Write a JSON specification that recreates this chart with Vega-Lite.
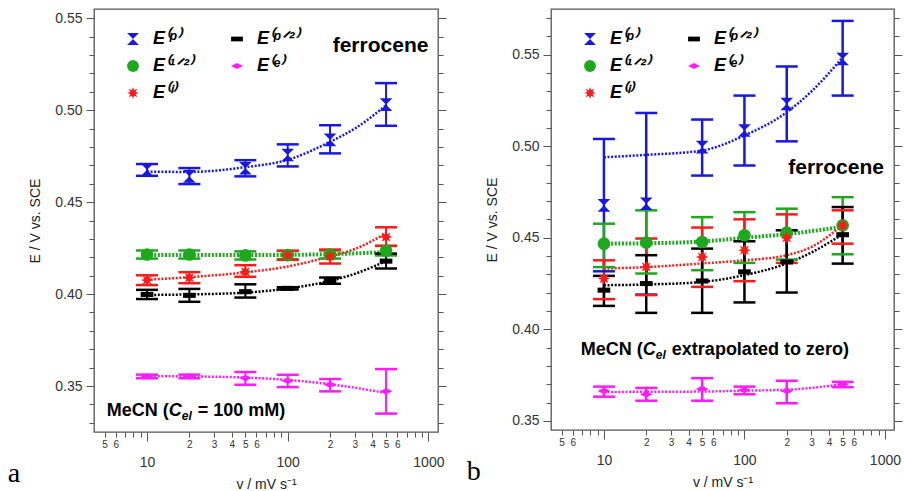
{
  "$schema": "https://vega.github.io/schema/vega-lite/v6.json",
  "padding": {"left": 7, "top": 8, "right": 0, "bottom": 0},
  "spacing": 18,
  "resolve": {"scale": {"color": "independent", "shape": "independent"}, "legend": {"color": "independent", "shape": "independent"}},
  "config": {
    "font": "Liberation Sans",
    "view": {"stroke": "#555", "strokeWidth": 1.3},
    "axis": {"domain": false, "grid": false, "tickColor": "#555", "tickWidth": 1, "labelColor": "#333", "titleColor": "#222", "labelFont": "Liberation Sans", "titleFont": "Liberation Sans", "titleFontWeight": "normal"},
    "legend": {"symbolOpacity": 1}
  },
  "datasets": {
    "one": [{"k": 1}],
    "pts_a": [
      {"series": "p", "v": 10, "E": 0.4675, "lo": 0.4643, "hi": 0.4707},
      {"series": "p", "v": 20, "E": 0.4640, "lo": 0.4598, "hi": 0.4685},
      {"series": "p", "v": 50, "E": 0.4684, "lo": 0.4640, "hi": 0.4728},
      {"series": "p", "v": 100, "E": 0.4756, "lo": 0.4694, "hi": 0.4814},
      {"series": "p", "v": 200, "E": 0.4838, "lo": 0.4765, "hi": 0.4918},
      {"series": "p", "v": 500, "E": 0.5030, "lo": 0.4915, "hi": 0.5147},
      {"series": "1/2", "v": 10, "E": 0.4215, "lo": 0.4193, "hi": 0.4237},
      {"series": "1/2", "v": 20, "E": 0.4215, "lo": 0.4193, "hi": 0.4237},
      {"series": "1/2", "v": 50, "E": 0.4210, "lo": 0.4188, "hi": 0.4232},
      {"series": "1/2", "v": 100, "E": 0.4212, "lo": 0.4190, "hi": 0.4234},
      {"series": "1/2", "v": 200, "E": 0.4215, "lo": 0.4193, "hi": 0.4237},
      {"series": "1/2", "v": 500, "E": 0.4235, "lo": 0.4210, "hi": 0.4262},
      {"series": "i", "v": 10, "E": 0.4076, "lo": 0.4049, "hi": 0.4102},
      {"series": "i", "v": 20, "E": 0.4089, "lo": 0.4059, "hi": 0.4119},
      {"series": "i", "v": 50, "E": 0.4121, "lo": 0.4094, "hi": 0.4157},
      {"series": "i", "v": 100, "E": 0.4211, "lo": 0.4186, "hi": 0.4236},
      {"series": "i", "v": 200, "E": 0.4205, "lo": 0.4166, "hi": 0.4242},
      {"series": "i", "v": 500, "E": 0.4310, "lo": 0.4262, "hi": 0.4363},
      {"series": "p/2", "v": 10, "E": 0.3998, "lo": 0.3973, "hi": 0.4023},
      {"series": "p/2", "v": 20, "E": 0.3993, "lo": 0.3958, "hi": 0.4028},
      {"series": "p/2", "v": 50, "E": 0.4013, "lo": 0.3981, "hi": 0.4053},
      {"series": "p/2", "v": 100, "E": 0.4031, "lo": 0.4025, "hi": 0.4037},
      {"series": "p/2", "v": 200, "E": 0.4073, "lo": 0.4056, "hi": 0.4090},
      {"series": "p/2", "v": 500, "E": 0.4179, "lo": 0.4139, "hi": 0.4220},
      {"series": "e", "v": 10, "E": 0.3552, "lo": 0.3542, "hi": 0.3562},
      {"series": "e", "v": 20, "E": 0.3552, "lo": 0.3542, "hi": 0.3562},
      {"series": "e", "v": 50, "E": 0.3543, "lo": 0.3507, "hi": 0.3576},
      {"series": "e", "v": 100, "E": 0.3528, "lo": 0.3494, "hi": 0.3561},
      {"series": "e", "v": 200, "E": 0.3507, "lo": 0.3471, "hi": 0.3538},
      {"series": "e", "v": 500, "E": 0.3471, "lo": 0.3350, "hi": 0.3592}
    ],
    "fit_a": [
      {"series": "p", "v": 10, "E": 0.4666}, {"series": "p", "v": 20, "E": 0.4664}, {"series": "p", "v": 50, "E": 0.4690}, {"series": "p", "v": 100, "E": 0.4730}, {"series": "p", "v": 200, "E": 0.4828}, {"series": "p", "v": 300, "E": 0.4900}, {"series": "p", "v": 500, "E": 0.5026},
      {"series": "1/2", "v": 10, "E": 0.4212}, {"series": "1/2", "v": 50, "E": 0.4212}, {"series": "1/2", "v": 100, "E": 0.4213}, {"series": "1/2", "v": 200, "E": 0.4217}, {"series": "1/2", "v": 500, "E": 0.4228},
      {"series": "i", "v": 10, "E": 0.4078}, {"series": "i", "v": 20, "E": 0.4092}, {"series": "i", "v": 50, "E": 0.4118}, {"series": "i", "v": 100, "E": 0.4150}, {"series": "i", "v": 200, "E": 0.4205}, {"series": "i", "v": 300, "E": 0.4245}, {"series": "i", "v": 500, "E": 0.4330},
      {"series": "p/2", "v": 10, "E": 0.3995}, {"series": "p/2", "v": 20, "E": 0.3998}, {"series": "p/2", "v": 50, "E": 0.4008}, {"series": "p/2", "v": 100, "E": 0.4030}, {"series": "p/2", "v": 200, "E": 0.4072}, {"series": "p/2", "v": 300, "E": 0.4110}, {"series": "p/2", "v": 500, "E": 0.4180},
      {"series": "e", "v": 10, "E": 0.3553}, {"series": "e", "v": 20, "E": 0.3552}, {"series": "e", "v": 50, "E": 0.3546}, {"series": "e", "v": 100, "E": 0.3533}, {"series": "e", "v": 200, "E": 0.3510}, {"series": "e", "v": 500, "E": 0.3462}
    ],
    "pts_b": [
      {"series": "p", "v": 10, "E": 0.4677, "lo": 0.4317, "hi": 0.5040},
      {"series": "p", "v": 20, "E": 0.4686, "lo": 0.4190, "hi": 0.5182},
      {"series": "p", "v": 50, "E": 0.4995, "lo": 0.4840, "hi": 0.5146},
      {"series": "p", "v": 100, "E": 0.5086, "lo": 0.4895, "hi": 0.5277},
      {"series": "p", "v": 200, "E": 0.5231, "lo": 0.5027, "hi": 0.5436},
      {"series": "p", "v": 500, "E": 0.5477, "lo": 0.5277, "hi": 0.5685},
      {"series": "1/2", "v": 10, "E": 0.4468, "lo": 0.4340, "hi": 0.4577},
      {"series": "1/2", "v": 20, "E": 0.4474, "lo": 0.4305, "hi": 0.4650},
      {"series": "1/2", "v": 50, "E": 0.4477, "lo": 0.4323, "hi": 0.4613},
      {"series": "1/2", "v": 100, "E": 0.4514, "lo": 0.4363, "hi": 0.4640},
      {"series": "1/2", "v": 200, "E": 0.4528, "lo": 0.4381, "hi": 0.4659},
      {"series": "1/2", "v": 500, "E": 0.4568, "lo": 0.4410, "hi": 0.4722},
      {"series": "i", "v": 10, "E": 0.4277, "lo": 0.4165, "hi": 0.4377},
      {"series": "i", "v": 20, "E": 0.4341, "lo": 0.4187, "hi": 0.4496},
      {"series": "i", "v": 50, "E": 0.4395, "lo": 0.4232, "hi": 0.4556},
      {"series": "i", "v": 100, "E": 0.4432, "lo": 0.4263, "hi": 0.4601},
      {"series": "i", "v": 200, "E": 0.4500, "lo": 0.4363, "hi": 0.4628},
      {"series": "i", "v": 500, "E": 0.4568, "lo": 0.4468, "hi": 0.4650},
      {"series": "p/2", "v": 10, "E": 0.4214, "lo": 0.4128, "hi": 0.4292},
      {"series": "p/2", "v": 20, "E": 0.4250, "lo": 0.4090, "hi": 0.4405},
      {"series": "p/2", "v": 50, "E": 0.4264, "lo": 0.4090, "hi": 0.4441},
      {"series": "p/2", "v": 100, "E": 0.4314, "lo": 0.4147, "hi": 0.4481},
      {"series": "p/2", "v": 200, "E": 0.4368, "lo": 0.4201, "hi": 0.4541},
      {"series": "p/2", "v": 500, "E": 0.4517, "lo": 0.4359, "hi": 0.4668},
      {"series": "e", "v": 10, "E": 0.3663, "lo": 0.3632, "hi": 0.3687},
      {"series": "e", "v": 20, "E": 0.3645, "lo": 0.3610, "hi": 0.3680},
      {"series": "e", "v": 50, "E": 0.3674, "lo": 0.3610, "hi": 0.3733},
      {"series": "e", "v": 100, "E": 0.3669, "lo": 0.3645, "hi": 0.3687},
      {"series": "e", "v": 200, "E": 0.3663, "lo": 0.3596, "hi": 0.3719},
      {"series": "e", "v": 500, "E": 0.3700, "lo": 0.3684, "hi": 0.3713}
    ],
    "fit_b": [
      {"series": "p", "v": 10, "E": 0.4940}, {"series": "p", "v": 20, "E": 0.4953}, {"series": "p", "v": 50, "E": 0.4977}, {"series": "p", "v": 100, "E": 0.5059}, {"series": "p", "v": 200, "E": 0.5186}, {"series": "p", "v": 300, "E": 0.5300}, {"series": "p", "v": 500, "E": 0.5485},
      {"series": "1/2", "v": 10, "E": 0.4468}, {"series": "1/2", "v": 20, "E": 0.4470}, {"series": "1/2", "v": 50, "E": 0.4480}, {"series": "1/2", "v": 100, "E": 0.4500}, {"series": "1/2", "v": 200, "E": 0.4520}, {"series": "1/2", "v": 500, "E": 0.4560},
      {"series": "i", "v": 10, "E": 0.4332}, {"series": "i", "v": 20, "E": 0.4340}, {"series": "i", "v": 50, "E": 0.4360}, {"series": "i", "v": 100, "E": 0.4377}, {"series": "i", "v": 200, "E": 0.4405}, {"series": "i", "v": 300, "E": 0.4450}, {"series": "i", "v": 500, "E": 0.4570},
      {"series": "p/2", "v": 10, "E": 0.4241}, {"series": "p/2", "v": 20, "E": 0.4245}, {"series": "p/2", "v": 50, "E": 0.4259}, {"series": "p/2", "v": 100, "E": 0.4296}, {"series": "p/2", "v": 200, "E": 0.4360}, {"series": "p/2", "v": 300, "E": 0.4420}, {"series": "p/2", "v": 500, "E": 0.4520},
      {"series": "e", "v": 10, "E": 0.3658}, {"series": "e", "v": 50, "E": 0.3660}, {"series": "e", "v": 100, "E": 0.3665}, {"series": "e", "v": 200, "E": 0.3670}, {"series": "e", "v": 500, "E": 0.3700}
    ]
  },
  "hconcat": [
    {
      "width": 344,
      "height": 423,
      "title": {"text": "a", "orient": "bottom", "anchor": "start", "frame": "bounds", "font": "Liberation Serif", "fontSize": 28, "fontWeight": "normal", "color": "#000", "dx": -21, "offset": -31},
      "resolve": {"axis": {"x": "independent", "y": "independent"}, "legend": {"color": "independent", "shape": "independent"}},
      "layer": [
        {
          "data": {"name": "fit_a"},
          "transform": [{"filter": "datum.series != '1/2'"}],
          "mark": {"type": "line", "strokeDash": [2, 1.6], "strokeWidth": 2.5, "interpolate": "monotone"},
          "encoding": {
            "x": {"field": "v", "type": "quantitative", "scale": {"type": "log", "domain": [4.2, 1170], "nice": false},
              "axis": {"orient": "bottom", "title": "v  /  mV s\u207b\u00b9", "titleFontSize": 14, "titlePadding": 8,
                "values": [5,6,7,8,9,10,20,30,40,50,60,70,80,90,100,200,300,400,500,600,700,800,900,1000],
                "labelExpr": "datum.value == 10 || datum.value == 100 || datum.value == 1000 ? ['', '' + datum.value] : datum.value < 10 ? (datum.value <= 6 ? '' + datum.value : '') : datum.value < 100 ? (datum.value <= 60 ? '' + (datum.value / 10) : '') : (datum.value <= 600 ? '' + (datum.value / 100) : '')",
                "labelOverlap": false, "labelFlush": false, "labelBound": false, "labelPadding": 2, "labelLineHeight": 12,
                "labelFontSize": {"condition": {"test": "datum.value == 10 || datum.value == 100 || datum.value == 1000", "value": 14}, "value": 10},
                "tickSize": {"condition": {"test": "datum.value == 10 || datum.value == 100 || datum.value == 1000", "value": 9}, "value": 5}}},
            "y": {"field": "E", "type": "quantitative", "scale": {"domain": [0.325, 0.555], "nice": false, "zero": false},
              "axis": {"orient": "right", "title": null, "labels": false, "values": [0.33,0.34,0.35,0.36,0.37,0.38,0.39,0.40,0.41,0.42,0.43,0.44,0.45,0.46,0.47,0.48,0.49,0.50,0.51,0.52,0.53,0.54,0.55],
                "tickSize": {"condition": {"test": "round(datum.value*100) % 5 == 0", "value": 8}, "value": 5}}},
            "color": {"field": "series", "type": "nominal", "scale": {"domain": ["p", "1/2", "i", "p/2", "e"], "range": ["#1818e0", "#1ea81e", "#ff1a1a", "#000000", "#ff1aff"]}, "legend": null}
          }
        },
        {
          "data": {"name": "fit_a"},
          "transform": [{"filter": "datum.series == '1/2'"}],
          "mark": {"type": "line", "strokeDash": [2, 1.6], "strokeWidth": 4, "interpolate": "monotone"},
          "encoding": {
            "x": {"field": "v", "type": "quantitative", "axis": null},
            "y": {"field": "E", "type": "quantitative", "axis": null},
            "color": {"field": "series", "type": "nominal", "legend": null}
          }
        },
        {
          "data": {"name": "pts_a"},
          "mark": {"type": "rule", "strokeWidth": 2},
          "encoding": {
            "x": {"field": "v", "type": "quantitative", "axis": null},
            "y": {"field": "lo", "type": "quantitative", "axis": null},
            "y2": {"field": "hi"},
            "color": {"field": "series", "type": "nominal", "legend": null}
          }
        },
        {
          "data": {"name": "pts_a"},
          "transform": [{"fold": ["lo", "hi"], "as": ["which", "cap"]}],
          "mark": {"type": "tick", "orient": "horizontal", "size": 22, "thickness": 2.5, "opacity": 1},
          "encoding": {
            "x": {"field": "v", "type": "quantitative", "axis": null},
            "y": {"field": "cap", "type": "quantitative", "axis": null},
            "color": {"field": "series", "type": "nominal", "legend": null}
          }
        },
        {
          "data": {"name": "pts_a"},
          "mark": {"type": "point", "filled": true, "opacity": 1, "size": 160},
          "encoding": {
            "x": {"field": "v", "type": "quantitative", "axis": null},
            "y": {"field": "E", "type": "quantitative",
              "axis": {"orient": "left", "title": "E  /  V vs. SCE", "titleFontSize": 14, "titlePadding": 12, "labelFontSize": 14, "labelPadding": 4,
                "values": [0.33,0.34,0.35,0.36,0.37,0.38,0.39,0.40,0.41,0.42,0.43,0.44,0.45,0.46,0.47,0.48,0.49,0.50,0.51,0.52,0.53,0.54,0.55],
                "format": ".2f", "labelExpr": "round(datum.value*100) % 5 == 0 ? datum.label : ''",
                "tickSize": {"condition": {"test": "round(datum.value*100) % 5 == 0", "value": 8}, "value": 5}}},
            "color": {"field": "series", "type": "nominal",
              "legend": {"title": null, "orient": "top-left", "columns": 2, "offset": 21, "padding": 0, "symbolOffset": 9, "labelOffset": 11, "columnPadding": 26, "rowPadding": 9, "symbolSize": 140, "symbolStrokeWidth": 0, "labelFontSize": 18, "labelFontWeight": "bold", "labelFontStyle": "italic", "labelColor": "#000",
                "labelExpr": "datum.label == 'p' ? 'E\u207d\u1d56\u207e' : datum.label == 'p/2' ? 'E\u207d\u1d56\u141f\u00b2\u207e' : datum.label == '1/2' ? 'E\u207d\u00b9\u141f\u00b2\u207e' : datum.label == 'e' ? 'E\u207d\u1d49\u207e' : 'E\u207d\u2071\u207e'"}},
            "shape": {"field": "series", "type": "nominal",
              "scale": {"domain": ["p", "1/2", "i", "p/2", "e"], "range": ["M-1,-1L1,-1L-1,1L1,1Z", "circle", "M1,0L0.45,0.19L0.707,0.707L0.19,0.45L0,1L-0.19,0.45L-0.707,0.707L-0.45,0.19L-1,0L-0.45,-0.19L-0.707,-0.707L-0.19,-0.45L0,-1L0.19,-0.45L0.707,-0.707L0.45,-0.19Z", "M-1,-0.4L1,-0.4L1,0.4L-1,0.4Z", "M-1,0L0,-0.5L1,0L0,0.5Z"]},
              "legend": {"title": null, "orient": "top-left", "columns": 2, "offset": 21, "padding": 0, "symbolOffset": 9, "labelOffset": 11, "columnPadding": 26, "rowPadding": 9, "symbolSize": 140, "symbolStrokeWidth": 0, "labelFontSize": 18, "labelFontWeight": "bold", "labelFontStyle": "italic", "labelColor": "#000",
                "labelExpr": "datum.label == 'p' ? 'E\u207d\u1d56\u207e' : datum.label == 'p/2' ? 'E\u207d\u1d56\u141f\u00b2\u207e' : datum.label == '1/2' ? 'E\u207d\u00b9\u141f\u00b2\u207e' : datum.label == 'e' ? 'E\u207d\u1d49\u207e' : 'E\u207d\u2071\u207e'"}}
          }
        },
        {
          "data": {"name": "one"},
          "mark": {"type": "text", "text": "ferrocene", "fontSize": 21, "fontWeight": "bold", "align": "right", "baseline": "alphabetic", "color": "#000"},
          "encoding": {"x": {"datum": 1000, "type": "quantitative", "axis": null}, "y": {"datum": 0.5315, "type": "quantitative", "axis": null}}
        },
        {
          "data": {"name": "one"},
          "mark": {"type": "text", "text": "MeCN (", "fontSize": 18, "fontWeight": "bold", "align": "left", "baseline": "alphabetic", "color": "#000"},
          "encoding": {"x": {"datum": 5.18, "type": "quantitative", "axis": null}, "y": {"datum": 0.3339, "type": "quantitative", "axis": null}}
        },
        {
          "data": {"name": "one"},
          "mark": {"type": "text", "text": "C", "fontSize": 18, "fontWeight": "bold", "fontStyle": "italic", "align": "left", "baseline": "alphabetic", "color": "#000", "dx": 62},
          "encoding": {"x": {"datum": 5.18, "type": "quantitative", "axis": null}, "y": {"datum": 0.3339, "type": "quantitative", "axis": null}}
        },
        {
          "data": {"name": "one"},
          "mark": {"type": "text", "text": "el", "fontSize": 12, "fontWeight": "bold", "fontStyle": "italic", "align": "left", "baseline": "alphabetic", "color": "#000", "dx": 75, "dy": 4},
          "encoding": {"x": {"datum": 5.18, "type": "quantitative", "axis": null}, "y": {"datum": 0.3339, "type": "quantitative", "axis": null}}
        },
        {
          "data": {"name": "one"},
          "mark": {"type": "text", "text": "= 100 mM)", "fontSize": 18, "fontWeight": "bold", "align": "left", "baseline": "alphabetic", "color": "#000", "dx": 91},
          "encoding": {"x": {"datum": 5.18, "type": "quantitative", "axis": null}, "y": {"datum": 0.3339, "type": "quantitative", "axis": null}}
        }
      ]
    },
    {
      "width": 343,
      "height": 421,
      "title": {"text": "b", "orient": "bottom", "anchor": "start", "frame": "bounds", "font": "Liberation Serif", "fontSize": 28, "fontWeight": "normal", "color": "#000", "dx": -19, "offset": -31},
      "resolve": {"axis": {"x": "independent", "y": "independent"}, "legend": {"color": "independent", "shape": "independent"}},
      "layer": [
        {
          "data": {"name": "fit_b"},
          "transform": [{"filter": "datum.series != '1/2'"}],
          "mark": {"type": "line", "strokeDash": [2, 1.6], "strokeWidth": 2.5, "interpolate": "monotone"},
          "encoding": {
            "x": {"field": "v", "type": "quantitative", "scale": {"type": "log", "domain": [4.2, 1160], "nice": false},
              "axis": {"orient": "bottom", "title": "v  /  mV s\u207b\u00b9", "titleFontSize": 14, "titlePadding": 8,
                "values": [5,6,7,8,9,10,20,30,40,50,60,70,80,90,100,200,300,400,500,600,700,800,900,1000],
                "labelExpr": "datum.value == 10 || datum.value == 100 || datum.value == 1000 ? ['', '' + datum.value] : datum.value < 10 ? (datum.value <= 6 ? '' + datum.value : '') : datum.value < 100 ? (datum.value <= 60 ? '' + (datum.value / 10) : '') : (datum.value <= 600 ? '' + (datum.value / 100) : '')",
                "labelOverlap": false, "labelFlush": false, "labelBound": false, "labelPadding": 2, "labelLineHeight": 12,
                "labelFontSize": {"condition": {"test": "datum.value == 10 || datum.value == 100 || datum.value == 1000", "value": 14}, "value": 10},
                "tickSize": {"condition": {"test": "datum.value == 10 || datum.value == 100 || datum.value == 1000", "value": 9}, "value": 5}}},
            "y": {"field": "E", "type": "quantitative", "scale": {"domain": [0.345, 0.575], "nice": false, "zero": false},
              "axis": {"orient": "right", "title": null, "labels": false, "values": [0.35,0.36,0.37,0.38,0.39,0.40,0.41,0.42,0.43,0.44,0.45,0.46,0.47,0.48,0.49,0.50,0.51,0.52,0.53,0.54,0.55,0.56,0.57],
                "tickSize": {"condition": {"test": "round(datum.value*100) % 5 == 0", "value": 8}, "value": 5}}},
            "color": {"field": "series", "type": "nominal", "scale": {"domain": ["p", "1/2", "i", "p/2", "e"], "range": ["#1818e0", "#1ea81e", "#ff1a1a", "#000000", "#ff1aff"]}, "legend": null}
          }
        },
        {
          "data": {"name": "fit_b"},
          "transform": [{"filter": "datum.series == '1/2'"}],
          "mark": {"type": "line", "strokeDash": [2, 1.6], "strokeWidth": 4, "interpolate": "monotone"},
          "encoding": {
            "x": {"field": "v", "type": "quantitative", "axis": null},
            "y": {"field": "E", "type": "quantitative", "axis": null},
            "color": {"field": "series", "type": "nominal", "legend": null}
          }
        },
        {
          "data": {"name": "pts_b"},
          "mark": {"type": "rule", "strokeWidth": 2.5},
          "encoding": {
            "x": {"field": "v", "type": "quantitative", "axis": null},
            "y": {"field": "lo", "type": "quantitative", "axis": null},
            "y2": {"field": "hi"},
            "color": {"field": "series", "type": "nominal", "legend": null}
          }
        },
        {
          "data": {"name": "pts_b"},
          "transform": [{"fold": ["lo", "hi"], "as": ["which", "cap"]}],
          "mark": {"type": "tick", "orient": "horizontal", "size": 22, "thickness": 2.5, "opacity": 1},
          "encoding": {
            "x": {"field": "v", "type": "quantitative", "axis": null},
            "y": {"field": "cap", "type": "quantitative", "axis": null},
            "color": {"field": "series", "type": "nominal", "legend": null}
          }
        },
        {
          "data": {"name": "pts_b"},
          "mark": {"type": "point", "filled": true, "opacity": 1, "size": 160},
          "encoding": {
            "x": {"field": "v", "type": "quantitative", "axis": null},
            "y": {"field": "E", "type": "quantitative",
              "axis": {"orient": "left", "title": "E  /  V vs. SCE", "titleFontSize": 14, "titlePadding": 12, "labelFontSize": 14, "labelPadding": 4,
                "values": [0.35,0.36,0.37,0.38,0.39,0.40,0.41,0.42,0.43,0.44,0.45,0.46,0.47,0.48,0.49,0.50,0.51,0.52,0.53,0.54,0.55,0.56,0.57],
                "format": ".2f", "labelExpr": "round(datum.value*100) % 5 == 0 ? datum.label : ''",
                "tickSize": {"condition": {"test": "round(datum.value*100) % 5 == 0", "value": 8}, "value": 5}}},
            "color": {"field": "series", "type": "nominal",
              "legend": {"title": null, "orient": "top-left", "columns": 2, "offset": 21, "padding": 0, "symbolOffset": 9, "labelOffset": 11, "columnPadding": 26, "rowPadding": 9, "symbolSize": 140, "symbolStrokeWidth": 0, "labelFontSize": 18, "labelFontWeight": "bold", "labelFontStyle": "italic", "labelColor": "#000",
                "labelExpr": "datum.label == 'p' ? 'E\u207d\u1d56\u207e' : datum.label == 'p/2' ? 'E\u207d\u1d56\u141f\u00b2\u207e' : datum.label == '1/2' ? 'E\u207d\u00b9\u141f\u00b2\u207e' : datum.label == 'e' ? 'E\u207d\u1d49\u207e' : 'E\u207d\u2071\u207e'"}},
            "shape": {"field": "series", "type": "nominal",
              "scale": {"domain": ["p", "1/2", "i", "p/2", "e"], "range": ["M-1,-1L1,-1L-1,1L1,1Z", "circle", "M1,0L0.45,0.19L0.707,0.707L0.19,0.45L0,1L-0.19,0.45L-0.707,0.707L-0.45,0.19L-1,0L-0.45,-0.19L-0.707,-0.707L-0.19,-0.45L0,-1L0.19,-0.45L0.707,-0.707L0.45,-0.19Z", "M-1,-0.4L1,-0.4L1,0.4L-1,0.4Z", "M-1,0L0,-0.5L1,0L0,0.5Z"]},
              "legend": {"title": null, "orient": "top-left", "columns": 2, "offset": 21, "padding": 0, "symbolOffset": 9, "labelOffset": 11, "columnPadding": 26, "rowPadding": 9, "symbolSize": 140, "symbolStrokeWidth": 0, "labelFontSize": 18, "labelFontWeight": "bold", "labelFontStyle": "italic", "labelColor": "#000",
                "labelExpr": "datum.label == 'p' ? 'E\u207d\u1d56\u207e' : datum.label == 'p/2' ? 'E\u207d\u1d56\u141f\u00b2\u207e' : datum.label == '1/2' ? 'E\u207d\u00b9\u141f\u00b2\u207e' : datum.label == 'e' ? 'E\u207d\u1d49\u207e' : 'E\u207d\u2071\u207e'"}}
          }
        },
        {
          "data": {"name": "one"},
          "mark": {"type": "text", "text": "ferrocene", "fontSize": 21, "fontWeight": "bold", "align": "right", "baseline": "alphabetic", "color": "#000"},
          "encoding": {"x": {"datum": 984, "type": "quantitative", "axis": null}, "y": {"datum": 0.485, "type": "quantitative", "axis": null}}
        },
        {
          "data": {"name": "one"},
          "mark": {"type": "text", "text": "MeCN (", "fontSize": 18, "fontWeight": "bold", "align": "left", "baseline": "alphabetic", "color": "#000"},
          "encoding": {"x": {"datum": 6.85, "type": "quantitative", "axis": null}, "y": {"datum": 0.386, "type": "quantitative", "axis": null}}
        },
        {
          "data": {"name": "one"},
          "mark": {"type": "text", "text": "C", "fontSize": 18, "fontWeight": "bold", "fontStyle": "italic", "align": "left", "baseline": "alphabetic", "color": "#000", "dx": 62},
          "encoding": {"x": {"datum": 6.85, "type": "quantitative", "axis": null}, "y": {"datum": 0.386, "type": "quantitative", "axis": null}}
        },
        {
          "data": {"name": "one"},
          "mark": {"type": "text", "text": "el", "fontSize": 12, "fontWeight": "bold", "fontStyle": "italic", "align": "left", "baseline": "alphabetic", "color": "#000", "dx": 75, "dy": 4},
          "encoding": {"x": {"datum": 6.85, "type": "quantitative", "axis": null}, "y": {"datum": 0.386, "type": "quantitative", "axis": null}}
        },
        {
          "data": {"name": "one"},
          "mark": {"type": "text", "text": "extrapolated to zero)", "fontSize": 18, "fontWeight": "bold", "align": "left", "baseline": "alphabetic", "color": "#000", "dx": 91},
          "encoding": {"x": {"datum": 6.85, "type": "quantitative", "axis": null}, "y": {"datum": 0.386, "type": "quantitative", "axis": null}}
        }
      ]
    }
  ]
}
